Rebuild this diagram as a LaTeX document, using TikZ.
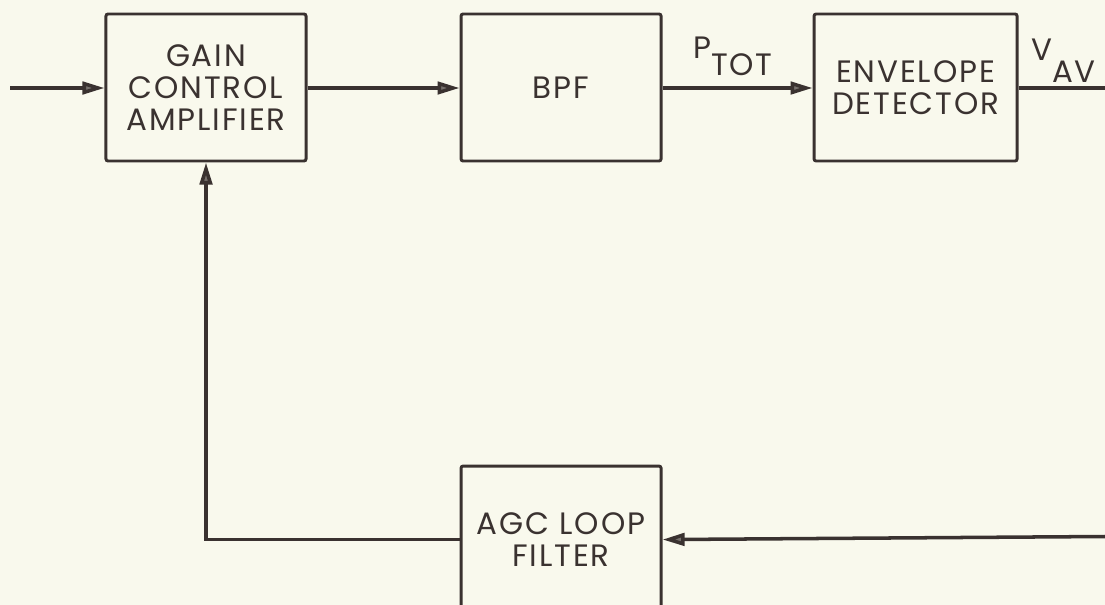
\documentclass[tikz,border=0pt]{standalone}
\usepackage{fontspec}
\setmainfont[LetterSpace=6]{Poppins}
\usetikzlibrary{positioning,arrows.meta}
\definecolor{ink}{RGB}{58,50,48}
\definecolor{paper}{RGB}{249,249,237}
\definecolor{tipfill}{RGB}{118,112,108}

\begin{document}
\begin{tikzpicture}[
    x=0.025cm, y=-0.025cm,
    node distance=3.8cm,
    block/.style={rectangle, draw=ink, line width=2.1pt, rounded corners=1.5pt, minimum width=5cm, minimum height=3.675cm, align=center, text=ink, font=\fontsize{22}{23}\selectfont},
    lbl/.style={inner sep=0pt, text=ink, font=\fontsize{22}{23}\selectfont},
    arrow/.style={-{Triangle[length=5.5mm, width=3.1mm, fill=tipfill]}, draw=ink, line width=2.5pt},
    wire/.style={draw=ink, line width=2.5pt}
]
    \useasboundingbox (0,0) rectangle (1105,605);
    \clip (0,0) rectangle (1105,605);
    \fill[paper] (0,0) rectangle (1105,605);

    % Blocks
    \node[block] (gca) at (206,87.5) {GAIN\\CONTROL\\AMPLIFIER};
    \node[block, right=of gca] (bpf) {BPF};
    \node[block, right=3.75cm of bpf, minimum width=5.075cm] (env) {ENVELOPE\\DETECTOR};
    \node[block, below=7.55cm of bpf] (agc) {AGC LOOP\\FILTER};

    % Signal labels
    \node[lbl, anchor=base west] (ptot) at (693,58) {P\raisebox{-0.55em}{TOT}};
    \node[lbl, anchor=base west] (vav) at (1031,60) {V\raisebox{-0.72em}{AV}};

    % Loose ends
    \coordinate (in) at (10,88);
    \coordinate (out) at (1105,88);
    \coordinate (fb) at (1105,536.5);

    % Forward path
    \draw[arrow] (in) -- (gca.west |- in);
    \draw[arrow] (gca.east |- in) -- (bpf.west |- in);
    \draw[arrow] (bpf.east |- in) -- (env.west |- in);
    \draw[wire] (env.east |- in) -- (out);

    % Feedback path
    \draw[arrow] (fb) -- (agc.east);
    \draw[arrow] (agc.west) -| (gca.south);
\end{tikzpicture}
\end{document}
